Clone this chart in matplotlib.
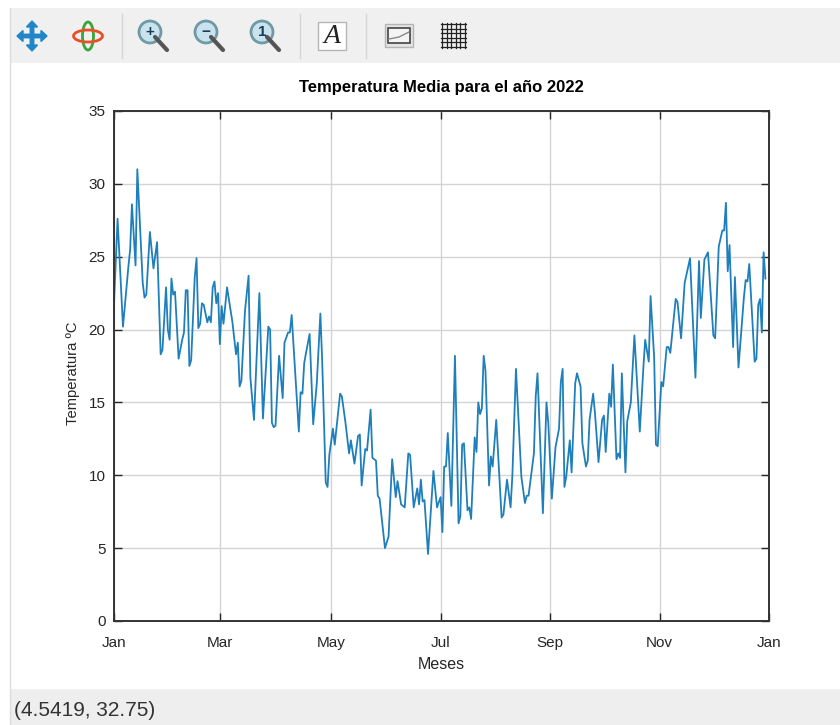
import matplotlib
matplotlib.use("Agg")
import matplotlib.pyplot as plt
from matplotlib.patches import Circle, Ellipse, FancyArrow, Rectangle

plt.rcParams["font.family"] = ["Liberation Sans", "DejaVu Sans"]

W, H = 840, 725

# dia del año y temperatura
dias = [
    0, 2, 5, 8, 9, 10, 12, 13, 16, 17, 18, 20, 22, 24, 26, 27, 29, 30, 31, 32,
    33, 34, 36, 38, 39, 40, 41, 42, 43, 45, 46, 47, 48, 49, 50, 52, 53, 54, 55, 56,
    57, 58, 59, 60, 61, 63, 66, 68, 69, 70, 71, 73, 75, 76, 78, 81, 83, 86, 87, 88,
    89, 90, 92, 94, 95, 97, 98, 99, 103, 104, 105, 106, 107, 109, 111, 113, 115, 116, 118, 119,
    120, 122, 123, 126, 127, 129, 131, 132, 134, 136, 137, 138, 140, 141, 143, 144, 146, 147, 148, 151,
    153, 155, 157, 158, 160, 162, 164, 165, 167, 169, 170, 171, 172, 173, 175, 177, 178, 180, 182, 183,
    184, 185, 186, 188, 190, 192, 193, 194, 195, 197, 198, 199, 201, 202, 203, 204, 205, 206, 207, 209,
    210, 211, 213, 216, 217, 219, 221, 222, 224, 227, 229, 230, 231, 234, 235, 236, 239, 241, 242, 244,
    246, 248, 249, 250, 251, 252, 254, 255, 257, 258, 260, 261, 263, 264, 265, 267, 268, 270, 272, 273,
    274, 276, 277, 278, 280, 281, 282, 283, 285, 286, 288, 290, 293, 295, 296, 298, 299, 301, 302, 303,
    305, 306, 308, 309, 310, 313, 314, 316, 318, 321, 324, 326, 327, 329, 331, 334, 335, 337, 339, 340,
    341, 342, 343, 345, 346, 348, 351, 352, 353, 354, 357, 358, 359, 360, 361, 362, 363,
]
temperatura = [
    21.8, 27.6, 20.2, 24.3, 25.5, 28.6, 24.4, 31.0, 23.2, 22.2, 22.4, 26.7, 24.2, 26.0, 18.3, 18.6, 22.9, 20.0, 19.3, 23.5,
    22.4, 22.6, 18.0, 19.3, 19.8, 22.7, 22.7, 17.5, 17.9, 23.6, 24.9, 20.1, 20.4, 21.8, 21.7, 20.5, 20.9, 20.5, 22.9, 23.3,
    21.8, 22.5, 19.0, 21.6, 20.4, 22.9, 20.5, 18.3, 19.1, 16.1, 16.5, 21.3, 23.7, 16.7, 13.8, 22.5, 13.9, 20.2, 20.0, 13.6,
    13.3, 13.4, 18.2, 15.3, 19.1, 19.8, 19.8, 21.0, 13.0, 15.7, 15.6, 17.7, 18.4, 19.7, 13.5, 16.3, 21.1, 17.9, 9.5, 9.2,
    11.4, 13.2, 12.1, 15.6, 15.4, 13.6, 11.5, 12.4, 10.8, 12.7, 12.8, 9.3, 11.8, 11.7, 14.5, 11.2, 11.0, 8.6, 8.4, 5.0,
    5.8, 11.1, 8.5, 9.6, 8.0, 7.8, 11.5, 11.4, 7.8, 9.1, 8.0, 9.7, 8.2, 8.3, 4.6, 8.4, 10.3, 7.8, 8.5, 6.1,
    10.6, 10.6, 12.9, 7.9, 18.2, 6.7, 7.2, 12.1, 12.2, 7.6, 7.8, 7.0, 12.6, 11.6, 15.0, 14.2, 14.6, 18.2, 17.2, 9.3,
    11.3, 10.6, 13.8, 7.1, 7.3, 9.7, 7.8, 10.0, 17.3, 9.9, 8.1, 8.6, 8.6, 11.5, 15.4, 17.0, 7.4, 15.0, 13.6, 8.4,
    11.9, 13.2, 16.4, 17.3, 9.2, 9.9, 12.4, 10.2, 16.3, 17.0, 16.1, 12.2, 10.6, 11.0, 13.8, 15.6, 14.3, 10.9, 13.8, 14.1,
    11.6, 15.6, 14.7, 17.6, 11.1, 11.5, 11.2, 17.0, 10.2, 13.7, 15.0, 19.6, 13.0, 17.4, 19.3, 17.8, 22.3, 18.1, 12.1, 12.0,
    16.4, 16.1, 18.8, 18.8, 18.4, 22.1, 21.9, 19.4, 23.2, 24.9, 16.7, 24.7, 20.8, 24.8, 25.3, 19.6, 19.4, 25.7, 26.8, 26.8,
    28.7, 24.0, 25.8, 18.8, 23.6, 17.4, 22.2, 23.4, 23.3, 24.5, 17.8, 18.0, 21.7, 22.1, 19.8, 25.3, 23.5,
]
ticks_mes = [0, 59, 121, 182, 243, 304, 365]
meses = ["Jan", "Mar", "May", "Jul", "Sep", "Nov", "Jan"]
ticks_temp = [0, 5, 10, 15, 20, 25, 30, 35]

fig = plt.figure(figsize=(W / 100, H / 100), dpi=100, facecolor="white")

# marco de la ventana, en pixeles
ui = fig.add_axes([0, 0, 1, 1], zorder=0)
ui.set_xlim(0, W)
ui.set_ylim(H, 0)
ui.axis("off")
ui.add_patch(Rectangle((10, 8), W - 10, 55, fc="#f0f0f0", ec="none"))
ui.add_patch(Rectangle((10, 689), W - 10, 36, fc="#eeeeee", ec="none"))
ui.plot([10, 10], [8, H], color="#dcdcdc", lw=1)
ui.text(14, 710, "(4.5419, 32.75)", fontsize=15, va="center", color="#333333")
for xs in (122, 300, 366):
    ui.plot([xs, xs], [14, 58], color="#d6d6d6", lw=1)

# mover
for dx, dy in ((1, 0), (-1, 0), (0, 1), (0, -1)):
    ui.add_patch(FancyArrow(32, 36, dx * 15, dy * 15, width=3.5, head_width=11,
                            head_length=6, length_includes_head=True, color="#1f86c8"))
# rotar
ui.add_patch(Ellipse((88, 36), 11, 28, fc="none", ec="#3aa63a", lw=2))
ui.add_patch(Ellipse((88, 36), 29, 12, fc="none", ec="#e8502a", lw=2))
# lupas
for cx, sig in ((150, "+"), (206, "\u2212"), (262, "1")):
    ui.plot([cx + 5, cx + 17], [37, 50], color="#555555", lw=3, solid_capstyle="round")
    ui.add_patch(Circle((cx, 32), 11, fc="#c9e3ee", ec="#6f9aa5", lw=2))
    ui.text(cx, 32, sig, fontsize=11, fontweight="bold", ha="center", va="center", color="#1b3a5c")
# texto
ui.add_patch(Rectangle((318, 22), 28, 28, fc="white", ec="#b5b5b5", lw=1))
ui.text(332, 36.5, "A", fontsize=20, family="Liberation Serif", style="italic",
        ha="center", va="center", color="#222222")
# leyenda
ui.add_patch(Rectangle((385, 24), 28, 23, fc="#e4e4e4", ec="#b5b5b5", lw=1))
ui.add_patch(Rectangle((388, 28), 22, 15, fc="#f4f4f4", ec="#444444", lw=1.2))
ui.plot([389, 399, 409], [39, 37, 32], color="#888888", lw=1)
# rejilla
for k in range(6):
    ui.plot([442 + k * 4.6, 442 + k * 4.6], [23, 48], color="#222222", lw=0.9)
    ui.plot([441, 466], [24 + k * 4.6, 24 + k * 4.6], color="#222222", lw=0.9)

# grafica
ax = fig.add_axes([114 / W, 1 - 621 / H, 655 / W, 510 / H], zorder=1)
ax.plot(dias, temperatura, color="#1f7fbb", lw=1.3)
ax.set_xlim(0, 365)
ax.set_ylim(0, 35)
ax.set_xticks(ticks_mes)
ax.set_xticklabels(meses)
ax.set_yticks(ticks_temp)
ax.tick_params(direction="in", length=6, width=1, top=True, right=True,
               labelsize=11, colors="#262626")
ax.tick_params(axis="x", pad=11)
ax.tick_params(axis="y", pad=6)
ax.grid(True, color="#d4d4d4", lw=1)
ax.set_axisbelow(True)
for s in ax.spines.values():
    s.set_color("#333333")
    s.set_linewidth(1.4)
ax.set_xlabel("Meses", fontsize=11.5, color="#262626", labelpad=5)
ax.set_ylabel("Temperatura ºC", fontsize=10.6, color="#262626")
ax.yaxis.set_label_coords(-0.052, 0.486)
ax.set_title("Temperatura Media para el año 2022", fontsize=12, fontweight="bold", pad=14)

fig.savefig("out.png", dpi=100)
plt.close(fig)
